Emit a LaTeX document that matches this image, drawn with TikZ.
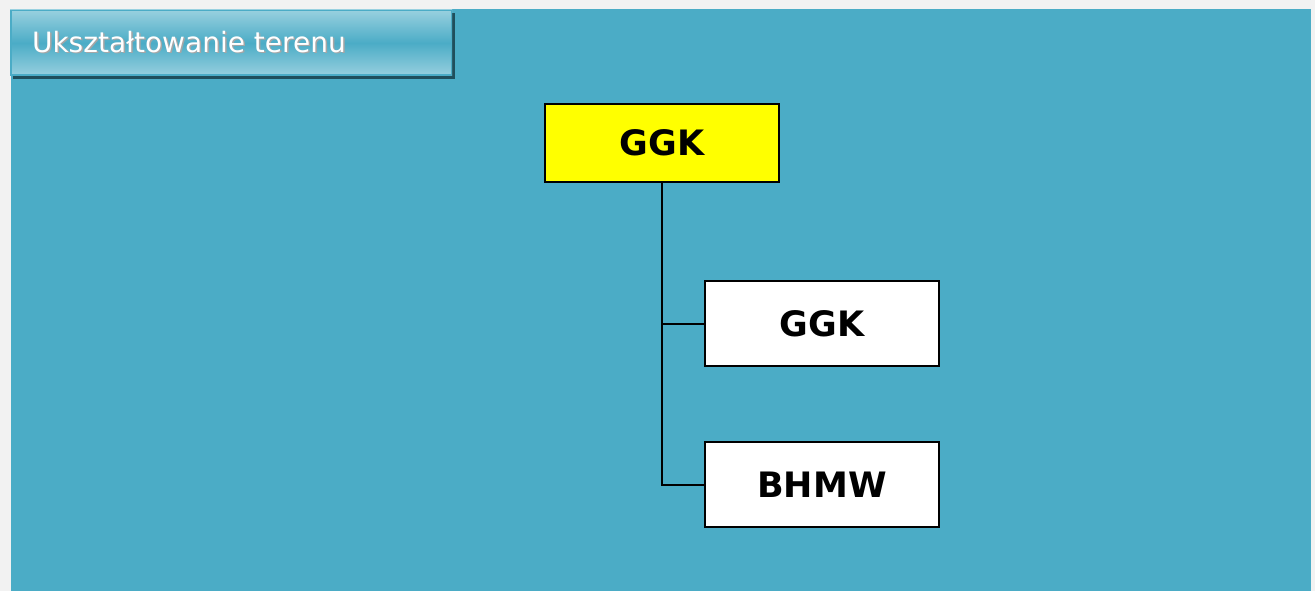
\documentclass[tikz,border=0pt]{standalone}
\usepackage{fontspec}
\setmainfont{DejaVu Sans}
\usetikzlibrary{shadows}
\definecolor{teal1}{HTML}{4BACC6}
\definecolor{teallight}{HTML}{98D0DF}
\definecolor{tealdark}{HTML}{1F4F5C}
\definecolor{pagegray}{HTML}{F2F2F2}
\definecolor{boxyellow}{HTML}{FFFF00}
\tikzset{
  orgbox/.style={draw=black, line width=2pt, rectangle, minimum width=234pt, inner sep=0pt, font=\fontsize{35}{40}\selectfont\bfseries},
  link/.style={draw=black, line width=2pt}
}
\begin{document}
\begin{tikzpicture}[x=1pt,y=-1pt]
\useasboundingbox (0,0) rectangle (1315,591);
\fill[pagegray] (0,0) rectangle (1315,591);
\fill[teal1] (11,9) rectangle (1311,591);
% title
\fill[tealdark] (13,13) rectangle (455,79);
\shade[top color=teallight, bottom color=teallight, middle color=teal1] (10,10) rectangle (452,76);
\draw[teal1, line width=1.5pt] (10.75,10.75) rectangle (451.25,75.25);
\node[anchor=west, text=gray!70, font=\fontsize{28}{32}\selectfont] (titleshadow) at (30,43.5) {Ukształtowanie terenu};
\node[anchor=west, text=white, font=\fontsize{28}{32}\selectfont] (title) at (28.5,42) {Ukształtowanie terenu};
% org chart
\node[orgbox, fill=boxyellow, minimum height=78pt] (top) at (662,143) {GGK};
\node[orgbox, fill=white, minimum height=85pt] (ggk) at (822,323.5) {GGK};
\node[orgbox, fill=white, minimum height=85pt] (bhmw) at (822,484.5) {BHMW};
\draw[link] (top.south) -- (top.south |- bhmw.west) -- (bhmw.west);
\draw[link] (top.south |- ggk.west) -- (ggk.west);
\end{tikzpicture}
\end{document}
